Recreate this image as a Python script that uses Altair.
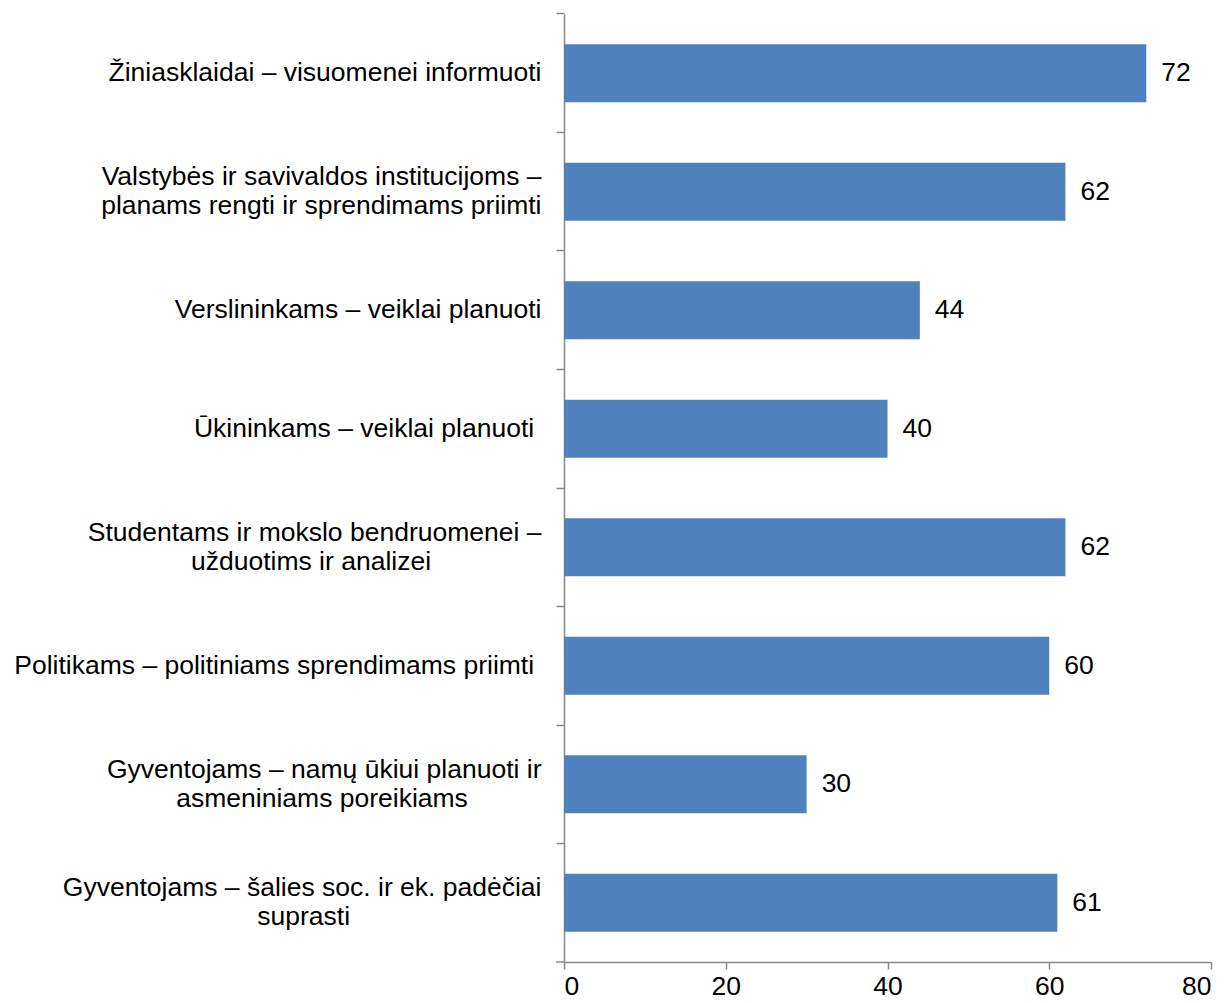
import altair as alt
import pandas as pd

# ---- data ----
categories = [
    "Žiniasklaidai – visuomenei informuoti",
    "Valstybės ir savivaldos institucijoms –|planams rengti ir sprendimams priimti",
    "Verslininkams – veiklai planuoti",
    "Ūkininkams – veiklai planuoti ",
    "Studentams ir mokslo bendruomenei –|užduotims ir analizei",
    "Politikams – politiniams sprendimams priimti ",
    "Gyventojams – namų ūkiui planuoti ir|asmeniniams poreikiams",
    "Gyventojams – šalies soc. ir ek. padėčiai|suprasti",
]
values = [72, 62, 44, 40, 62, 60, 30, 61]
x_ticks = [0, 20, 40, 60, 80]

# ---- layout only: non-breaking spaces (kept by a zero-width space) to centre short lines ----
NBSP = "\u00a0"
ZWSP = "\u200b"
second_line_pad = {1: 0, 4: 15, 6: 10, 7: 26}


def display_label(i, text):
    text = text.replace(" |", "|")
    if text.endswith(" "):
        text = text[:-1] + NBSP + ZWSP
    if "|" in text:
        a, b = text.split("|")
        n = second_line_pad.get(i, 0)
        if n:
            b = b + NBSP * n + ZWSP
        text = a + "|" + b
    return text


labels = [display_label(i, c) for i, c in enumerate(categories)]
df = pd.DataFrame({"idx": list(range(len(values))), "label": labels, "value": values})

FONT = "Liberation Sans"
FS = 26.5
LH = 29
AX = "#868686"
H = 948
W = 647
P_IN = 0.51
# tick at the boundary between category slots (half the gap above each bar)
tick_band_pos = -(P_IN / 2) / (1 - P_IN)

y_enc = alt.Y(
    "label:N",
    sort=None,
    scale=alt.Scale(paddingInner=P_IN, paddingOuter=P_IN / 2),
    axis=alt.Axis(
        title=None,
        bandPosition=tick_band_pos,
        labelExpr="split(datum.label, '|')",
        labelOffset={
            "condition": {"test": "indexof(datum.label, '|') >= 0", "value": -LH / 2},
            "value": 0,
        },
        labelAlign="right",
        labelBaseline="middle",
        labelFont=FONT,
        labelFontSize=FS,
        labelColor="black",
        labelLimit=700,
        labelLineHeight=LH,
        labelPadding=15,
        tickSize=8,
        tickColor=AX,
        tickWidth=1.5,
        domainColor=AX,
        domainWidth=1.5,
        minExtent=550,
        maxExtent=550,
        grid=False,
    ),
)

x_enc = alt.X(
    "value:Q",
    scale=alt.Scale(domain=[0, 80], nice=False),
    axis=alt.Axis(
        title=None,
        values=x_ticks,
        grid=False,
        labelFont=FONT,
        labelFontSize=FS,
        labelColor="black",
        labelPadding=4,
        tickSize=7,
        tickColor=AX,
        tickWidth=1.5,
        domainColor=AX,
        domainWidth=1.5,
    ),
)

base = alt.Chart(df)

bars = base.mark_bar(color="#4F81BD").encode(x=x_enc, y=y_enc)

texts = base.mark_text(
    align="left", baseline="middle", dx=15, font=FONT, fontSize=FS, color="black"
).encode(x="value:Q", y=alt.Y("label:N", sort=None), text="value:Q")

# closing tick of the category axis at its lower end
bottom_tick = (
    base.transform_filter(alt.datum.idx == len(values) - 1)
    .mark_rule(color=AX, strokeWidth=1.5)
    .encode(y=alt.value(H), x=alt.value(-8), x2=alt.value(0))
)

chart = (
    alt.layer(bars, texts, bottom_tick)
    .properties(
        width=W,
        height=H,
        padding={"left": 5, "top": 4, "right": 5, "bottom": 2},
        background="white",
    )
    .configure_view(stroke=None)
)

chart.save("out.html", embed_options={"renderer": "svg", "actions": False})
